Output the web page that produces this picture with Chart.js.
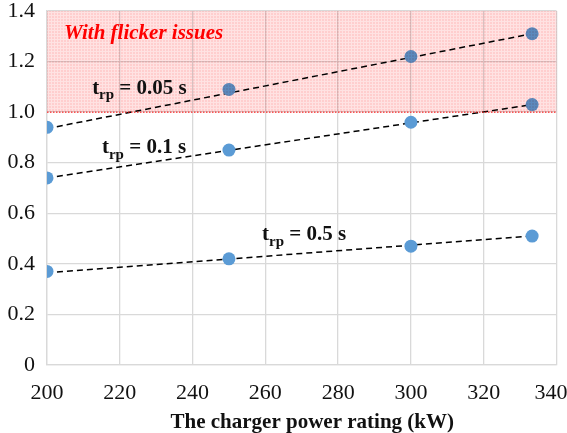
<!DOCTYPE html>
<html>
<head>
<meta charset="utf-8">
<script src="https://cdn.jsdelivr.net/npm/chart.js@4.4.1/dist/chart.umd.min.js"></script>
<style>
  html, body { margin: 0; padding: 0; background: #ffffff; }
  #wrap { width: 567px; height: 433px; position: relative; }
</style>
</head>
<body>
<div id="wrap"><canvas id="chart"></canvas></div>
<script>
// Potencia del cargador (kW)
const powerKW = [200, 250, 300, 333.3];

// Valores por tiempo de rampa
const trp005 = [0.94, 1.09, 1.22, 1.31];
const trp01  = [0.74, 0.85, 0.96, 1.03];
const trp05  = [0.37, 0.42, 0.47, 0.51];

// Extremos de las líneas de tendencia
const trendX      = [200, 333.3];
const trend005    = [0.935, 1.31];
const trend01     = [0.74, 1.03];
const trend05     = [0.365, 0.51];

// Zona con problemas de flicker
const flickerX    = [200, 340];
const flickerTop  = 1.4;
const flickerBase = 1.0;

// Etiquetas: [x, y, texto principal, subíndice, resto]
const LABELS = [
    [212.4, 1.095, 't', 'rp', ' = 0.05 s'],
    [215.1, 0.858, 't', 'rp', ' = 0.1 s'],
    [259.1, 0.514, 't', 'rp', ' = 0.5 s']
];
const FLICKER_LABEL = [204.7, 1.312, 'With flicker issues'];

const xTicks = [200, 220, 240, 260, 280, 300, 320, 340];

const SERIF = "'Liberation Serif', 'Times New Roman', serif";
const POINT_COLOR = '#5b9bd5';

function toXY(xs, ys) {
    return xs.map((x, i) => ({ x, y: ys[i] }));
}

// Textura rosa (se aplica en modo multiply)
function pinkPattern(ctx) {
    const c = document.createElement('canvas');
    c.width = 3; c.height = 3;
    const g = c.getContext('2d');
    g.fillStyle = 'rgb(255, 206, 206)';
    g.fillRect(0, 0, 3, 3);
    g.fillStyle = 'rgb(255, 226, 226)';
    g.fillRect(0, 0, 3, 1);
    g.fillRect(0, 0, 1, 3);
    return ctx.createPattern(c, 'repeat');
}

const labelPlugin = {
    id: 'labels',
    afterDatasetsDraw(chart) {
        const { ctx, scales } = chart;
        const x = scales.x, y = scales.y;

        // Zona sombreada
        ctx.save();
        ctx.globalCompositeOperation = 'multiply';
        ctx.fillStyle = pinkPattern(ctx);
        const left = x.getPixelForValue(flickerX[0]);
        const right = x.getPixelForValue(flickerX[1]);
        const top = y.getPixelForValue(flickerTop);
        const base = y.getPixelForValue(flickerBase);
        ctx.fillRect(left, top, right - left, base - top);
        ctx.restore();

        ctx.save();
        ctx.textBaseline = 'middle';
        ctx.textAlign = 'left';

        ctx.font = `italic bold 21px ${SERIF}`;
        ctx.fillStyle = '#ff0000';
        ctx.fillText(FLICKER_LABEL[2], x.getPixelForValue(FLICKER_LABEL[0]), y.getPixelForValue(FLICKER_LABEL[1]));

        ctx.fillStyle = '#111111';
        LABELS.forEach(([lx, ly, main, sub, rest]) => {
            let px = x.getPixelForValue(lx);
            const py = y.getPixelForValue(ly);
            ctx.font = `bold 21px ${SERIF}`;
            ctx.fillText(main, px, py);
            px += ctx.measureText(main).width;
            ctx.font = `bold 15px ${SERIF}`;
            ctx.fillText(sub, px, py + 7);
            px += ctx.measureText(sub).width;
            ctx.font = `bold 21px ${SERIF}`;
            ctx.fillText(rest, px, py);
        });
        ctx.restore();
    }
};

const scatterSet = (data) => ({
    type: 'scatter',
    data,
    backgroundColor: POINT_COLOR,
    borderColor: POINT_COLOR,
    pointRadius: 6.5,
    pointHoverRadius: 6.5,
    borderWidth: 0
});

const trendSet = (data) => ({
    type: 'line',
    data,
    borderColor: '#000000',
    borderWidth: 1.5,
    borderDash: [6, 4],
    pointRadius: 0,
    fill: false
});

// El primer dataset se dibuja encima
new Chart(document.getElementById('chart'), {
    type: 'scatter',
    data: {
        datasets: [
            {
                type: 'line',
                data: toXY(flickerX, [flickerBase, flickerBase]),
                borderColor: '#ff0000',
                borderWidth: 1,
                borderDash: [1.5, 1.5],
                pointRadius: 0,
                fill: false
            },
            scatterSet(toXY(powerKW, trp005)),
            scatterSet(toXY(powerKW, trp01)),
            scatterSet(toXY(powerKW, trp05)),
            trendSet(toXY(trendX, trend005)),
            trendSet(toXY(trendX, trend01)),
            trendSet(toXY(trendX, trend05))
        ]
    },
    options: {
        responsive: true,
        maintainAspectRatio: false,
        animation: false,
        layout: { padding: { top: 11, right: 10.5, left: 0, bottom: 0 } },
        plugins: {
            legend: { display: false },
            tooltip: { enabled: false }
        },
        scales: {
            x: {
                type: 'linear',
                min: 200,
                max: 340,
                afterBuildTicks: (s) => { s.ticks = xTicks.map(v => ({ value: v })); },
                afterFit: (s) => { s.height = 68; s.paddingLeft = 0; s.paddingRight = 0; },
                grid: { color: '#d9d9d9', lineWidth: 1.3, drawTicks: false },
                border: { color: '#d9d9d9', width: 1.3 },
                ticks: {
                    color: '#111111',
                    padding: 15,
                    font: { family: SERIF, size: 22 },
                    callback: (v) => v === 340 ? '340  ' : String(v)
                },
                title: {
                    display: true,
                    text: '    The charger power rating (kW)',
                    color: '#111111',
                    padding: { top: 0, bottom: -2 },
                    font: { family: SERIF, size: 21, weight: 'bold' }
                }
            },
            y: {
                min: 0,
                max: 1.4,
                afterFit: (s) => { s.width = 47; s.paddingTop = 0; s.paddingBottom = 0; },
                grid: { color: '#d9d9d9', lineWidth: 1.3, drawTicks: false },
                border: { color: '#d9d9d9', width: 1.3 },
                ticks: {
                    stepSize: 0.2,
                    color: '#111111',
                    padding: 12,
                    font: { family: SERIF, size: 22 },
                    callback: (v) => v === 0 ? '0' : v.toFixed(1)
                }
            }
        }
    },
    plugins: [labelPlugin]
});
</script>
</body>
</html>
